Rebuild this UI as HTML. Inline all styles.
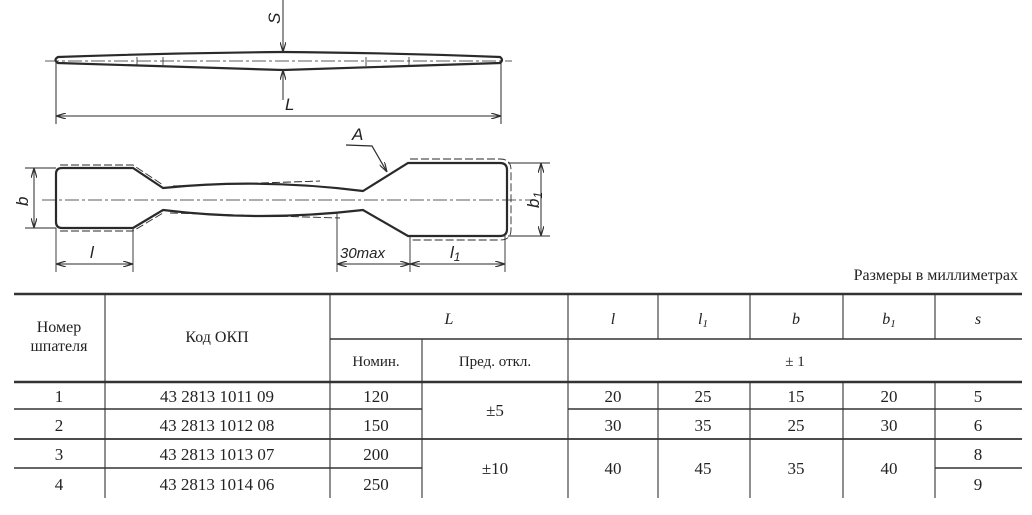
<!DOCTYPE html>
<html><head><meta charset="utf-8"><style>
html,body{margin:0;padding:0;background:#fff}
body{width:1032px;height:515px;overflow:hidden;position:relative}
svg{position:absolute;left:0;top:0}
</style></head><body>
<svg width="1032" height="515" viewBox="0 0 1032 515" xmlns="http://www.w3.org/2000/svg" font-family="Liberation Serif, serif">
<defs>
<marker id="ar" markerWidth="10" markerHeight="6" refX="10" refY="3" orient="auto-start-reverse" markerUnits="userSpaceOnUse"><path d="M0,0 L10,3 L0,6" fill="none" stroke="#333" stroke-width="1.2"/></marker>
</defs>
<g stroke="#2a2a2a" fill="none">
<path d="M58,57 Q170,53 283,52 Q400,53 500,57 Q504,60 500,63 Q400,66 283,70 Q170,66 58,63 Q53,60 58,57 Z" stroke-width="2.2"/>
<line x1="45" y1="61" x2="512" y2="61" stroke-width="0.8" stroke-dasharray="14,3,3,3"/>
<line x1="137" y1="57" x2="137" y2="65" stroke-width="0.8"/><line x1="163" y1="57" x2="163" y2="65" stroke-width="0.8"/>
<line x1="366" y1="57" x2="366" y2="66" stroke-width="0.8"/><line x1="409" y1="57" x2="409" y2="66" stroke-width="0.8"/>
<line x1="283" y1="0" x2="283" y2="52" stroke-width="1" marker-end="url(#ar)"/>
<line x1="283" y1="100" x2="283" y2="70" stroke-width="1" marker-end="url(#ar)"/>
<line x1="56" y1="58" x2="56" y2="124" stroke-width="1"/><line x1="501" y1="60" x2="501" y2="124" stroke-width="1"/>
<line x1="56" y1="116" x2="501" y2="116" stroke-width="1" marker-start="url(#ar)" marker-end="url(#ar)"/>
<path d="M62,168 L133,168 L163,188 Q260,178 363,191 L408,163 L500,163 Q507,163 507,170 L507,229 Q507,236 500,236 L408,236 L363,210 Q260,222 163,210 L133,228 L62,228 Q56,228 56,222 L56,174 Q56,168 62,168 Z" stroke-width="2.2"/>
<path d="M60,165 L133,165 L163,185 M173,186 L320,181 M410,159 L500,159 Q511,159 511,170 L511,230 Q511,240 500,240 L412,240 M60,231 L133,231 L163,213 M170,213 L340,218" stroke-width="0.9" stroke-dasharray="8,3"/>
<line x1="42" y1="200" x2="535" y2="200" stroke-width="0.8" stroke-dasharray="14,3,3,3"/>
<line x1="25" y1="168" x2="56" y2="168" stroke-width="0.9"/><line x1="25" y1="228" x2="56" y2="228" stroke-width="0.9"/>
<line x1="34" y1="168" x2="34" y2="228" stroke-width="1" marker-start="url(#ar)" marker-end="url(#ar)"/>
<line x1="508" y1="163" x2="550" y2="163" stroke-width="0.9"/><line x1="508" y1="236" x2="550" y2="236" stroke-width="0.9"/>
<line x1="541" y1="163" x2="541" y2="236" stroke-width="1" marker-start="url(#ar)" marker-end="url(#ar)"/>
<path d="M346,145 L372,146 L387,172" stroke-width="1.2" marker-end="url(#ar)"/>
<line x1="56" y1="228" x2="56" y2="272" stroke-width="0.9"/><line x1="133" y1="228" x2="133" y2="272" stroke-width="0.9"/>
<line x1="337" y1="212" x2="337" y2="272" stroke-width="0.9"/><line x1="410" y1="236" x2="410" y2="272" stroke-width="0.9"/><line x1="505" y1="236" x2="505" y2="272" stroke-width="0.9"/>
<line x1="56" y1="264" x2="133" y2="264" stroke-width="1" marker-start="url(#ar)" marker-end="url(#ar)"/>
<line x1="337" y1="264" x2="410" y2="264" stroke-width="1" marker-start="url(#ar)" marker-end="url(#ar)"/>
<line x1="410" y1="264" x2="505" y2="264" stroke-width="1" marker-start="url(#ar)" marker-end="url(#ar)"/>
</g>
<g font-family="Liberation Sans, sans-serif" font-style="italic" fill="#222">
<text x="0" y="0" font-size="17" transform="translate(280,24) rotate(-90)">S</text>
<text x="285" y="110" font-size="17">L</text>
<text x="352" y="140" font-size="17">A</text>
<text x="0" y="0" font-size="17" transform="translate(28,206) rotate(-90)">b</text>
<text x="0" y="0" font-size="17" transform="translate(539,208) rotate(-90)">b<tspan font-size="12" dy="3">1</tspan></text>
<text x="90" y="258" font-size="17">l</text>
<text x="340" y="258" font-size="15">30max</text>
<text x="450" y="258" font-size="17">l<tspan font-size="12" dy="3">1</tspan></text>
</g>
<text x="1018" y="280" font-size="16" text-anchor="end" fill="#222">Размеры в миллиметрах</text>
<g stroke="#333" fill="none">
<line x1="14" y1="294" x2="1022" y2="294" stroke-width="2.5"/>
<line x1="330" y1="339" x2="1022" y2="339" stroke-width="1.5"/>
<line x1="14" y1="382" x2="1022" y2="382" stroke-width="2.5"/>
<line x1="14" y1="409" x2="422" y2="409" stroke-width="1.4"/><line x1="568" y1="409" x2="1022" y2="409" stroke-width="1.4"/>
<line x1="14" y1="439" x2="1022" y2="439" stroke-width="1.8"/>
<line x1="14" y1="468" x2="422" y2="468" stroke-width="1.4"/><line x1="935" y1="468" x2="1022" y2="468" stroke-width="1.4"/>
<g stroke-width="1.1">
<line x1="105" y1="294" x2="105" y2="498"/><line x1="330" y1="294" x2="330" y2="498"/>
<line x1="422" y1="339" x2="422" y2="498"/><line x1="568" y1="294" x2="568" y2="498"/>
<line x1="658" y1="294" x2="658" y2="339"/><line x1="750" y1="294" x2="750" y2="339"/>
<line x1="843" y1="294" x2="843" y2="339"/><line x1="935" y1="294" x2="935" y2="339"/>
<line x1="658" y1="382" x2="658" y2="498"/><line x1="750" y1="382" x2="750" y2="498"/>
<line x1="843" y1="382" x2="843" y2="498"/><line x1="935" y1="382" x2="935" y2="498"/>
</g></g>
<g font-size="16" fill="#222" text-anchor="middle">
<text x="59" y="332">Номер</text><text x="59" y="351">шпателя</text>
<text x="217" y="342">Код ОКП</text>
<text x="449" y="324" font-style="italic">L</text>
<text x="613" y="324" font-style="italic">l</text>
<text x="703" y="324" font-style="italic">l<tspan font-size="11" dy="3">1</tspan></text>
<text x="796" y="324" font-style="italic">b</text>
<text x="889" y="324" font-style="italic">b<tspan font-size="11" dy="3">1</tspan></text>
<text x="978" y="324" font-style="italic">s</text>
<text x="376" y="366" font-size="15">Номин.</text><text x="495" y="366" font-size="15">Пред. откл.</text>
<text x="795" y="366" font-size="15">± 1</text>
<g font-size="17">
<text x="59" y="402">1</text><text x="217" y="402">43 2813 1011 09</text><text x="376" y="402">120</text>
<text x="613" y="402">20</text><text x="703" y="402">25</text><text x="796" y="402">15</text><text x="889" y="402">20</text><text x="978" y="402">5</text>
<text x="59" y="431">2</text><text x="217" y="431">43 2813 1012 08</text><text x="376" y="431">150</text>
<text x="613" y="431">30</text><text x="703" y="431">35</text><text x="796" y="431">25</text><text x="889" y="431">30</text><text x="978" y="431">6</text>
<text x="495" y="416">±5</text>
<text x="59" y="460">3</text><text x="217" y="460">43 2813 1013 07</text><text x="376" y="460">200</text>
<text x="59" y="490">4</text><text x="217" y="490">43 2813 1014 06</text><text x="376" y="490">250</text>
<text x="495" y="474">±10</text>
<text x="613" y="474">40</text><text x="703" y="474">45</text><text x="796" y="474">35</text><text x="889" y="474">40</text>
<text x="978" y="460">8</text><text x="978" y="490">9</text>
</g></g>
</svg>
</body></html>
